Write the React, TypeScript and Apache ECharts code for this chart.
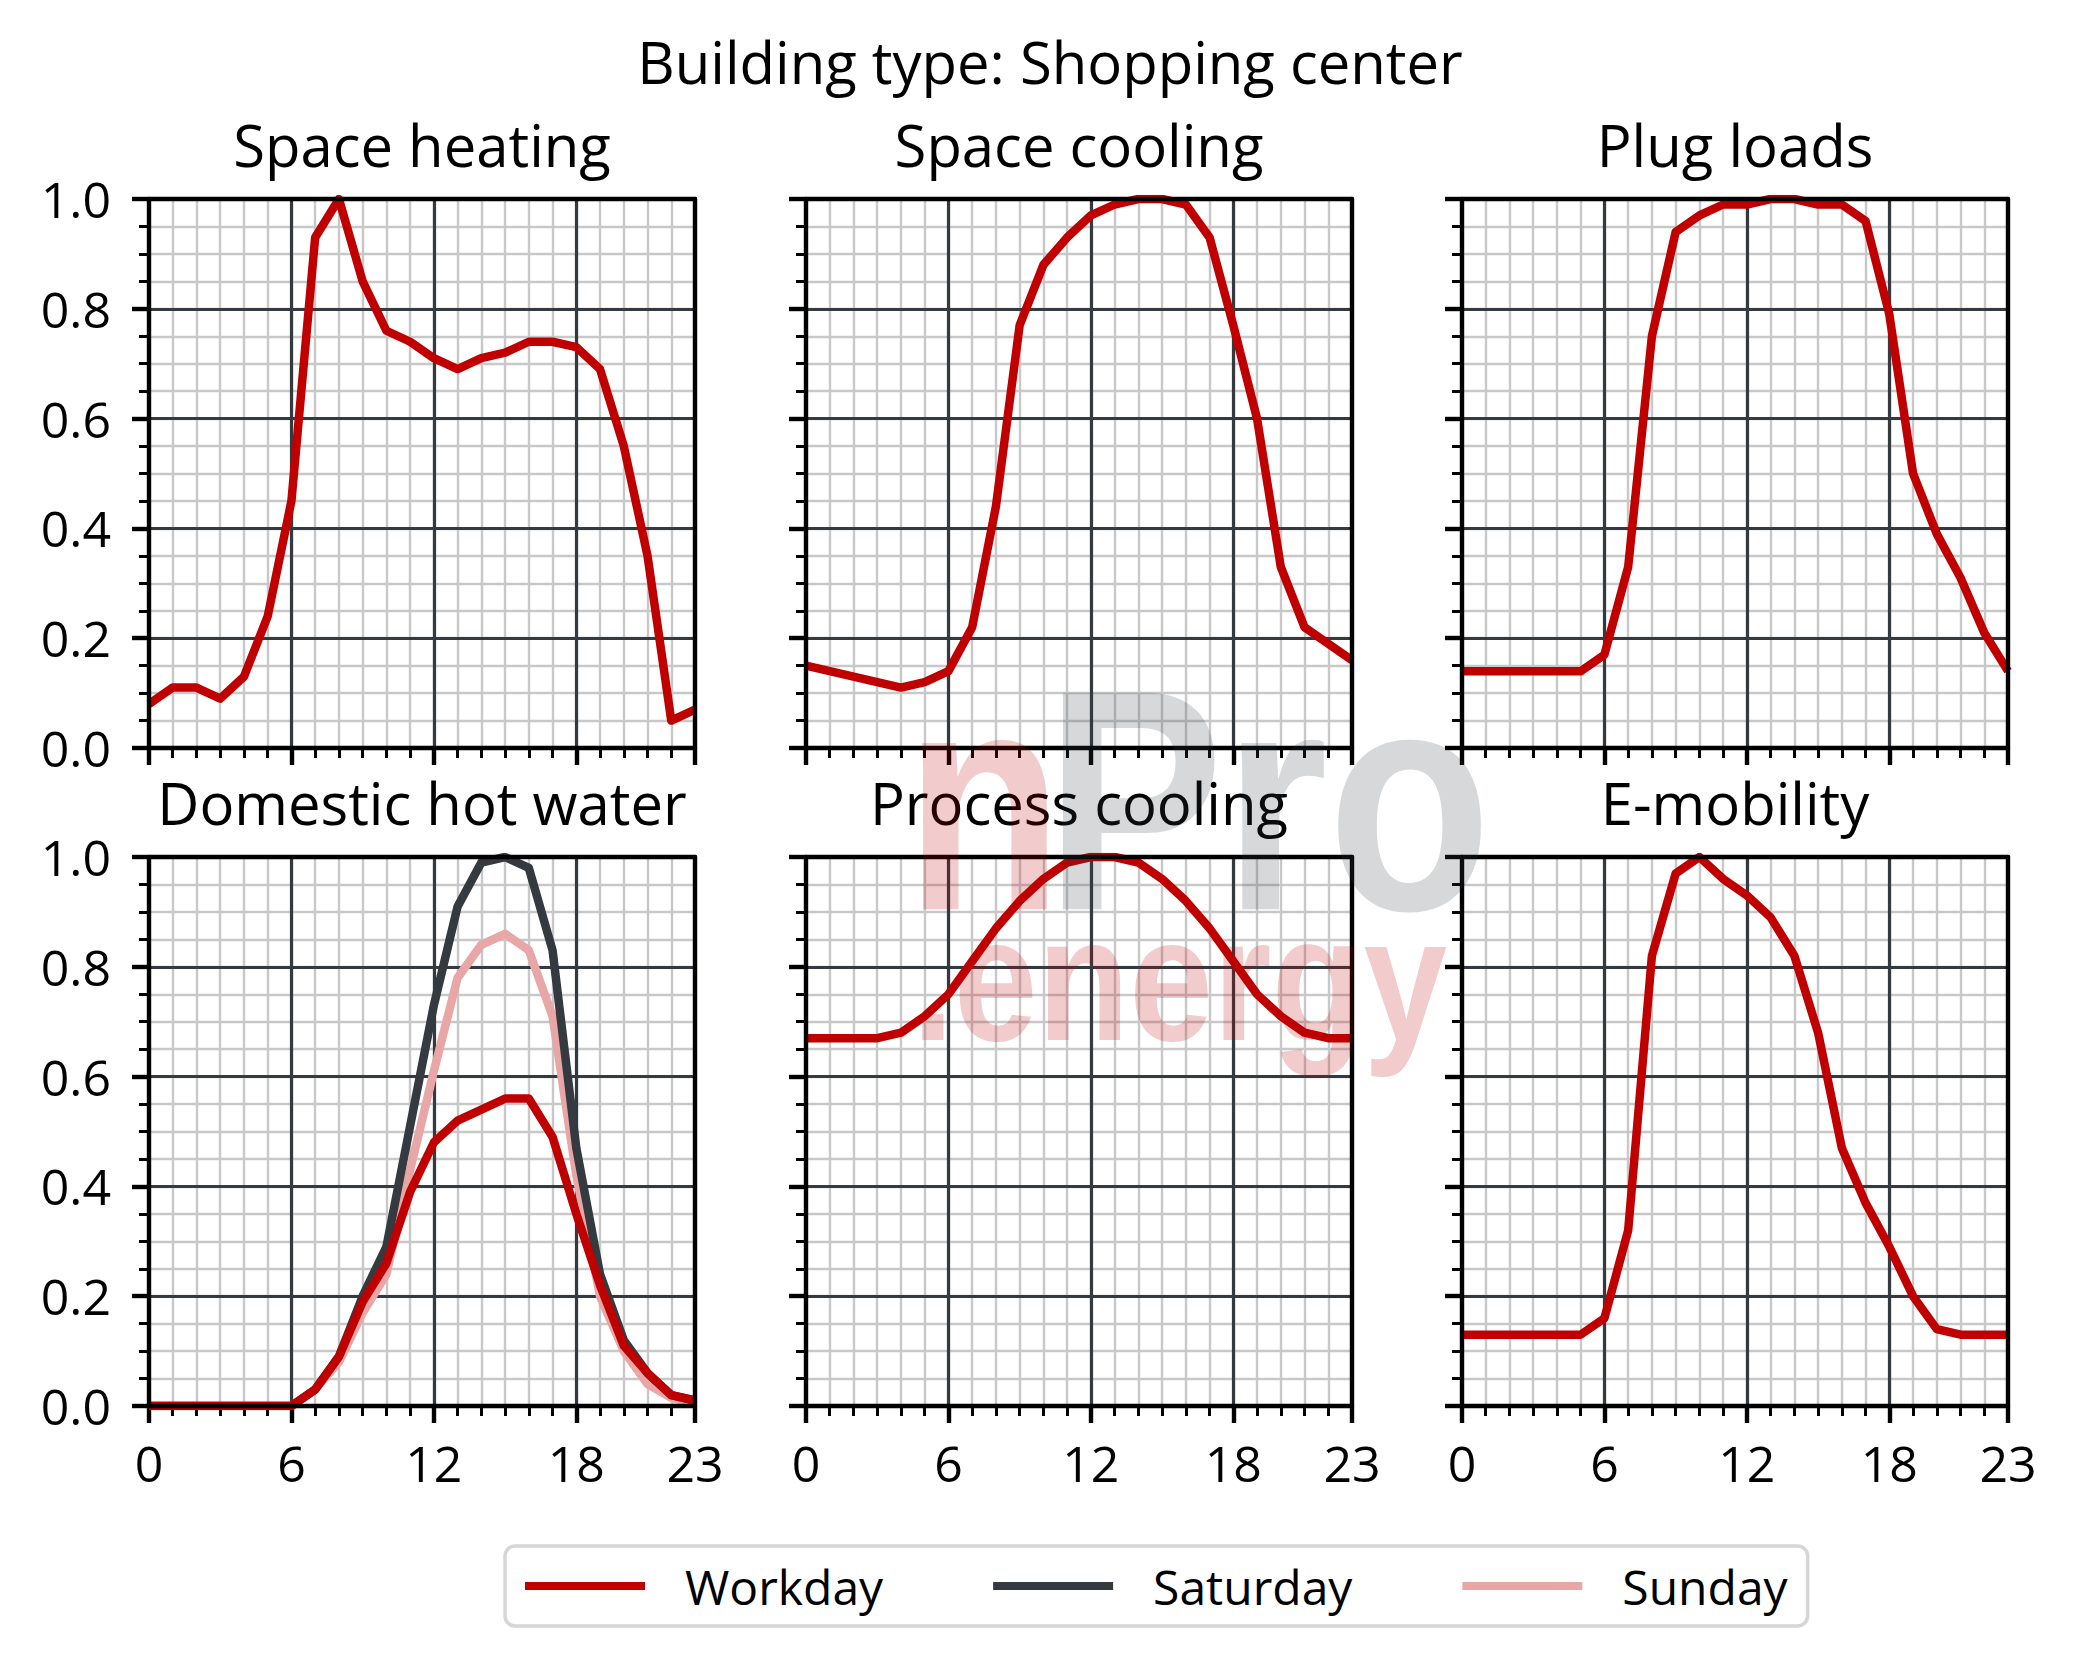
import React, { useEffect, useRef } from "react";
import * as echarts from "echarts";

// ---------- data ----------
const hours = [0, 1, 2, 3, 4, 5, 6, 7, 8, 9, 10, 11, 12, 13, 14, 15, 16, 17, 18, 19, 20, 21, 22, 23];
const xTickLabels = ["0", "6", "12", "18", "23"];

const spaceHeating = [0.08, 0.11, 0.11, 0.09, 0.13, 0.24, 0.45, 0.93, 1.0, 0.85, 0.76, 0.74, 0.71, 0.69, 0.71, 0.72, 0.74, 0.74, 0.73, 0.69, 0.55, 0.35, 0.05, 0.07];
const spaceCooling = [0.15, 0.14, 0.13, 0.12, 0.11, 0.12, 0.14, 0.22, 0.44, 0.77, 0.88, 0.93, 0.97, 0.99, 1.0, 1.0, 0.99, 0.93, 0.77, 0.6, 0.33, 0.22, 0.19, 0.16];
const plugLoads = [0.14, 0.14, 0.14, 0.14, 0.14, 0.14, 0.17, 0.33, 0.75, 0.94, 0.97, 0.99, 0.99, 1.0, 1.0, 0.99, 0.99, 0.96, 0.79, 0.5, 0.39, 0.31, 0.21, 0.14];
const dhwWorkday = [0, 0, 0, 0, 0, 0, 0, 0.03, 0.09, 0.19, 0.26, 0.39, 0.48, 0.52, 0.54, 0.56, 0.56, 0.49, 0.35, 0.22, 0.11, 0.06, 0.02, 0.01];
const dhwSaturday = [0, 0, 0, 0, 0, 0, 0, 0.03, 0.09, 0.2, 0.29, 0.51, 0.73, 0.91, 0.99, 1.0, 0.98, 0.83, 0.47, 0.24, 0.12, 0.06, 0.02, 0.01];
const dhwSunday = [0, 0, 0, 0, 0, 0, 0, 0.03, 0.08, 0.17, 0.24, 0.43, 0.61, 0.78, 0.84, 0.86, 0.83, 0.71, 0.42, 0.2, 0.1, 0.04, 0.015, 0.005];
const processCooling = [0.67, 0.67, 0.67, 0.67, 0.68, 0.71, 0.75, 0.81, 0.87, 0.92, 0.96, 0.99, 1.0, 1.0, 0.99, 0.96, 0.92, 0.87, 0.81, 0.75, 0.71, 0.68, 0.67, 0.67];
const eMobility = [0.13, 0.13, 0.13, 0.13, 0.13, 0.13, 0.16, 0.32, 0.82, 0.97, 1.0, 0.96, 0.93, 0.89, 0.82, 0.68, 0.47, 0.37, 0.29, 0.2, 0.14, 0.13, 0.13, 0.13];

const mainTitle = "Building type: Shopping center";
const panelTitles = ["Space heating", "Space cooling", "Plug loads", "Domestic hot water", "Process cooling", "E-mobility"];
const legendNames = ["Workday", "Saturday", "Sunday"];

// panel -> list of [seriesName, values]
const panelSeries: [string, number[]][][] = [
  [["Workday", spaceHeating]],
  [["Workday", spaceCooling]],
  [["Workday", plugLoads]],
  [["Sunday", dhwSunday], ["Saturday", dhwSaturday], ["Workday", dhwWorkday]],
  [["Workday", processCooling]],
  [["Workday", eMobility]],
];

// ---------- styling ----------
const FONT = '"Open Sans", "Noto Sans", sans-serif';
const COLORS: Record<string, string> = { Workday: "#c00000", Saturday: "#343a40", Sunday: "#e8a6a6" };
const colLeft = [149, 806, 1462];
const rowTop = [199, 857];
const GW = 546;
const GH = 549;
const SPINE = 4.4;

function buildOption() {
  const grid: any[] = [];
  const xAxis: any[] = [];
  const yAxis: any[] = [];
  const series: any[] = [];
  const title: any[] = [];

  title.push({
    text: mainTitle,
    left: 1050,
    top: 32,
    textAlign: "center",
    padding: 0,
    textStyle: { fontSize: 58, fontWeight: "normal", color: "#000", fontFamily: FONT },
  });

  for (let g = 0; g < 6; g++) {
    const row = Math.floor(g / 3);
    const col = g % 3;
    grid.push({ left: colLeft[col], top: rowTop[row], width: GW, height: GH, show: false });
    title.push({
      text: panelTitles[g],
      left: colLeft[col] + GW / 2,
      top: rowTop[row] - 84,
      textAlign: "center",
      padding: 0,
      textStyle: { fontSize: 58, fontWeight: "normal", color: "#000", fontFamily: FONT },
    });

    const common = { type: "value", gridIndex: g, axisLine: { show: false, onZero: false } };
    // x axes: minor, major, spine bottom, spine top
    xAxis.push({
      ...common, min: 0, max: 23, interval: 1, position: "bottom", z: 1,
      axisTick: { show: true, length: 10, lineStyle: { color: "#000", width: 3 } },
      axisLabel: { show: false },
      splitLine: { show: true, showMinLine: false, showMaxLine: false, lineStyle: { color: "#c8c8c8", width: 2.4 } },
    });
    xAxis.push({
      ...common, min: 0, max: 23, interval: 6, position: "bottom", z: 2,
      axisTick: { show: true, length: 17, lineStyle: { color: "#000", width: SPINE } },
      axisLabel: {
        show: row === 1, margin: 32, fontSize: 50, color: "#000", fontFamily: FONT,
        showMinLabel: true, showMaxLabel: true,
        formatter: (v: number) => (xTickLabels.indexOf(String(v)) >= 0 ? String(v) : ""),
      },
      splitLine: { show: true, showMinLine: false, showMaxLine: false, lineStyle: { color: "#343a40", width: 3.2 } },
    });
    for (const pos of ["bottom", "top"]) {
      xAxis.push({
        type: "value", gridIndex: g, min: 0, max: 23, position: pos, z: 4,
        axisLine: { show: true, onZero: false, lineStyle: { color: "#000", width: SPINE } },
        axisTick: { show: false }, axisLabel: { show: false }, splitLine: { show: false },
      });
    }
    // y axes: minor, major, spine left, spine right
    yAxis.push({
      ...common, min: 0, max: 1, interval: 0.05, position: "left", z: 1,
      axisTick: { show: true, length: 10, lineStyle: { color: "#000", width: 3 } },
      axisLabel: { show: false },
      splitLine: { show: true, showMinLine: false, showMaxLine: false, lineStyle: { color: "#c8c8c8", width: 2.4 } },
    });
    yAxis.push({
      ...common, min: 0, max: 1, interval: 0.2, position: "left", z: 2,
      axisTick: { show: true, length: 17, lineStyle: { color: "#000", width: SPINE } },
      axisLabel: {
        show: col === 0, margin: 38, fontSize: 50, color: "#000", fontFamily: FONT,
        formatter: (v: number) => v.toFixed(1),
      },
      splitLine: { show: true, showMinLine: false, showMaxLine: false, lineStyle: { color: "#343a40", width: 3.2 } },
    });
    for (const pos of ["left", "right"]) {
      yAxis.push({
        type: "value", gridIndex: g, min: 0, max: 1, position: pos, z: 4,
        axisLine: { show: true, onZero: false, lineStyle: { color: "#000", width: SPINE } },
        axisTick: { show: false }, axisLabel: { show: false }, splitLine: { show: false },
      });
    }

    for (const [name, vals] of panelSeries[g]) {
      series.push({
        type: "line",
        name,
        xAxisIndex: 4 * g + 1,
        yAxisIndex: 4 * g + 1,
        data: hours.map((h, i) => [h, vals[i]]),
        symbol: "none",
        showSymbol: false,
        z: 3,
        silent: true,
        lineStyle: { color: COLORS[name], width: 8.5, join: "round", cap: "butt" },
        itemStyle: { color: COLORS[name] },
      });
    }
  }

  const wmFont = (size: number) => `bold ${size}px "Liberation Sans", Arial, sans-serif`;

  return {
    animation: false,
    backgroundColor: "#ffffff",
    title,
    grid,
    xAxis,
    yAxis,
    series,
    legend: {
      data: legendNames,
      left: 505,
      top: 1546,
      orient: "horizontal",
      icon: "rect",
      itemWidth: 120,
      itemHeight: 8,
      itemGap: 110,
      padding: [16, 20, 16, 20],
      borderColor: "#d6d6d6",
      borderWidth: 3.5,
      borderRadius: 10,
      backgroundColor: "#ffffff",
      selectedMode: false,
      textStyle: { fontSize: 48, color: "#000", fontFamily: FONT, padding: [0, 0, 0, 35] },
    },
    graphic: [
      {
        type: "text", x: 905, y: 800, scaleX: 0.82, z: 100, silent: true,
        style: { text: "n", font: wmFont(315), fill: "#c00000", opacity: 0.2, verticalAlign: "middle", textVerticalAlign: "middle" },
      },
      {
        type: "text", x: 1045, y: 800, scaleX: 0.85, z: 100, silent: true,
        style: { text: "Pro", font: wmFont(315), fill: "#343a40", opacity: 0.2, verticalAlign: "middle", textVerticalAlign: "middle" },
      },
      {
        type: "text", x: 912, y: 979, scaleX: 0.85, z: 100, silent: true,
        style: { text: ".energy", font: wmFont(177), fill: "#c00000", opacity: 0.2, verticalAlign: "middle", textVerticalAlign: "middle" },
      },
    ],
  };
}

export default function App() {
  const ref = useRef<HTMLDivElement>(null);
  useEffect(() => {
    if (!ref.current) return;
    const chart = echarts.init(ref.current, undefined, { renderer: "svg" });
    chart.setOption(buildOption() as any);
    return () => chart.dispose();
  }, []);
  return (
    <div
      ref={ref}
      style={{ position: "absolute", left: 0, top: 0, width: 2077, height: 1678, background: "#fff" }}
    />
  );
}
